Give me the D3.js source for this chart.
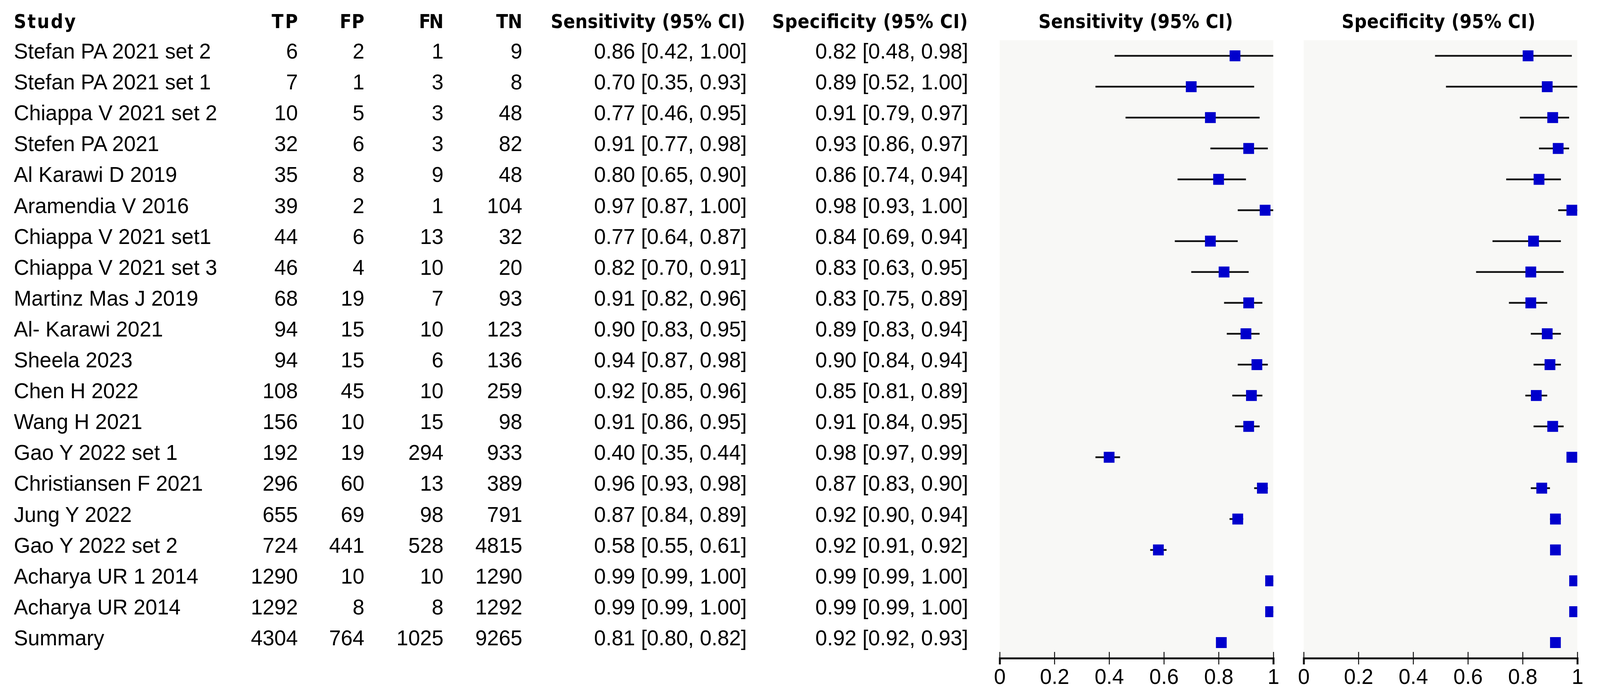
<!DOCTYPE html>
<html>
<head>
<meta charset="utf-8">
<script src="https://cdn.jsdelivr.net/npm/d3@7.9.0/dist/d3.min.js"></script>
<style>
  html, body { margin: 0; padding: 0; background: #fff; overflow: hidden; }
  svg { display: block; width: 100vw; height: 100vh; }
</style>
</head>
<body>
<svg id="chart"></svg>
<script>
// data
const studies = [
  "Stefan PA 2021 set 2", "Stefan PA 2021 set 1", "Chiappa V 2021 set 2", "Stefen PA 2021",
  "Al Karawi D 2019", "Aramendia V 2016", "Chiappa V 2021 set1", "Chiappa V 2021 set 3",
  "Martinz Mas J 2019", "Al- Karawi 2021", "Sheela 2023", "Chen H 2022", "Wang H 2021",
  "Gao Y 2022 set 1", "Christiansen F 2021", "Jung Y 2022", "Gao Y 2022 set 2",
  "Acharya UR 1 2014", "Acharya UR 2014", "Summary"
];
const tp = [6, 7, 10, 32, 35, 39, 44, 46, 68, 94, 94, 108, 156, 192, 296, 655, 724, 1290, 1292, 4304];
const fp = [2, 1, 5, 6, 8, 2, 6, 4, 19, 15, 15, 45, 10, 19, 60, 69, 441, 10, 8, 764];
const fn = [1, 3, 3, 3, 9, 1, 13, 10, 7, 10, 6, 10, 15, 294, 13, 98, 528, 10, 8, 1025];
const tn = [9, 8, 48, 82, 48, 104, 32, 20, 93, 123, 136, 259, 98, 933, 389, 791, 4815, 1290, 1292, 9265];

const sens   = [0.86, 0.70, 0.77, 0.91, 0.80, 0.97, 0.77, 0.82, 0.91, 0.90, 0.94, 0.92, 0.91, 0.40, 0.96, 0.87, 0.58, 0.99, 0.99, 0.81];
const sensLo = [0.42, 0.35, 0.46, 0.77, 0.65, 0.87, 0.64, 0.70, 0.82, 0.83, 0.87, 0.85, 0.86, 0.35, 0.93, 0.84, 0.55, 0.99, 0.99, 0.80];
const sensHi = [1.00, 0.93, 0.95, 0.98, 0.90, 1.00, 0.87, 0.91, 0.96, 0.95, 0.98, 0.96, 0.95, 0.44, 0.98, 0.89, 0.61, 1.00, 1.00, 0.82];

const spec   = [0.82, 0.89, 0.91, 0.93, 0.86, 0.98, 0.84, 0.83, 0.83, 0.89, 0.90, 0.85, 0.91, 0.98, 0.87, 0.92, 0.92, 0.99, 0.99, 0.92];
const specLo = [0.48, 0.52, 0.79, 0.86, 0.74, 0.93, 0.69, 0.63, 0.75, 0.83, 0.84, 0.81, 0.84, 0.97, 0.83, 0.90, 0.91, 0.99, 0.99, 0.92];
const specHi = [0.98, 1.00, 0.97, 0.97, 0.94, 1.00, 0.94, 0.95, 0.89, 0.94, 0.94, 0.89, 0.95, 0.99, 0.90, 0.94, 0.92, 1.00, 1.00, 0.93];

const axisTicks = [0, 0.2, 0.4, 0.6, 0.8, 1];

const width = 4163, height = 1788;
// fit the drawing to whatever the viewport really is
const svg = d3.select("#chart")
  .attr("viewBox", `0 0 ${width} ${height}`)
  .attr("preserveAspectRatio", "none");
svg.append("rect").attr("width", width).attr("height", height).attr("fill", "#fff");

const bodyFont = "'Liberation Sans', Arial, Helvetica, sans-serif";
const headFont = "'DejaVu Sans', Verdana, sans-serif";
const f2 = d3.format(".2f");

// rows: text baselines and plot row centres
const n = studies.length;
const yText = d3.scaleLinear().domain([0, n - 1]).range([150, 1653]);
const yRow  = d3.scaleLinear().domain([0, n - 1]).range([143, 1646]);

// header row
const headers = [
  { text: "Study", x: 36, anchor: "start", w: 161 },
  { text: "TP", x: 775, anchor: "end", w: 68 },
  { text: "FP", x: 948, anchor: "end", w: 64 },
  { text: "FN", x: 1154, anchor: "end", w: 64 },
  { text: "TN", x: 1359, anchor: "end", w: 68 },
  { text: "Sensitivity (95% CI)", x: 1939, anchor: "end", w: 506 },
  { text: "Specificity (95% CI)", x: 2518, anchor: "end", w: 509 },
  { text: "Sensitivity (95% CI)", x: 2955, anchor: "middle", w: 506 },
  { text: "Specificity (95% CI)", x: 3743, anchor: "middle", w: 504 }
];
svg.append("g").selectAll("text")
  .data(headers)
  .join("text")
  .attr("x", d => d.x)
  .attr("y", 72)
  .attr("text-anchor", d => d.anchor)
  .attr("font-family", headFont)
  .attr("font-weight", "bold")
  .attr("font-stretch", "condensed")
  .attr("font-size", 50)
  .attr("textLength", d => d.w)
  .attr("lengthAdjust", "spacing")
  .attr("fill", "#000")
  .text(d => d.text);

// table columns
const columns = [
  { x: 36, anchor: "start", val: i => studies[i] },
  { x: 775, anchor: "end", val: i => tp[i] },
  { x: 948, anchor: "end", val: i => fp[i] },
  { x: 1154, anchor: "end", val: i => fn[i] },
  { x: 1359, anchor: "end", val: i => tn[i] },
  { x: 1943, anchor: "end", val: i => `${f2(sens[i])} [${f2(sensLo[i])}, ${f2(sensHi[i])}]` },
  { x: 2519, anchor: "end", val: i => `${f2(spec[i])} [${f2(specLo[i])}, ${f2(specHi[i])}]` }
];
const table = svg.append("g")
  .attr("font-family", bodyFont)
  .attr("font-size", 55)
  .attr("fill", "#000");
columns.forEach(col => {
  table.append("g").selectAll("text")
    .data(d3.range(n))
    .join("text")
    .attr("x", col.x)
    .attr("y", i => yText(i))
    .attr("text-anchor", col.anchor)
    .text(i => col.val(i));
});

// forest panels
const panels = [
  { id: "sens", range: [2601, 3313], est: sens, lo: sensLo, hi: sensHi },
  { id: "spec", range: [3392, 4104], est: spec, lo: specLo, hi: specHi }
];
const panelTop = 103, axisY = 1686;

panels.forEach(p => {
  const x = d3.scaleLinear().domain([0, 1]).range(p.range);
  const g = svg.append("g");

  g.append("rect")
    .attr("x", x(0)).attr("y", panelTop)
    .attr("width", x(1) - x(0)).attr("height", axisY - panelTop)
    .attr("fill", "#f8f8f6");

  svg.append("clipPath").attr("id", "clip-" + p.id)
    .append("rect")
    .attr("x", x(0)).attr("y", panelTop)
    .attr("width", x(1) - x(0)).attr("height", axisY - panelTop);

  const marks = g.append("g").attr("clip-path", `url(#clip-${p.id})`);

  marks.selectAll("line.ci")
    .data(d3.range(n))
    .join("line")
    .attr("class", "ci")
    .attr("x1", i => x(p.lo[i]))
    .attr("x2", i => x(p.hi[i]))
    .attr("y1", i => yRow(i))
    .attr("y2", i => yRow(i))
    .attr("stroke", "#111")
    .attr("stroke-width", 4.5);

  const box = 28;
  marks.selectAll("rect.pt")
    .data(d3.range(n))
    .join("rect")
    .attr("class", "pt")
    .attr("x", i => x(p.est[i]) - box / 2)
    .attr("y", i => yRow(i) - box / 2)
    .attr("width", box)
    .attr("height", box)
    .attr("fill", "#0000cc");

  // axis
  const axis = d3.axisBottom(x)
    .tickValues(axisTicks)
    .tickFormat(d3.format(""))
    .tickSizeOuter(0)
    .tickSize(16);
  const ag = g.append("g").attr("transform", `translate(0,${axisY})`).call(axis);
  ag.select(".domain").attr("stroke", "#111").attr("stroke-width", 5);
  ag.selectAll(".tick line").attr("y1", -16).attr("y2", 16).attr("stroke", "#111").attr("stroke-width", 2.5);
  ag.selectAll(".tick text")
    .attr("y", 66).attr("dy", 0)
    .attr("font-family", bodyFont)
    .attr("font-size", 55)
    .attr("fill", "#000");
});
</script>
</body>
</html>
